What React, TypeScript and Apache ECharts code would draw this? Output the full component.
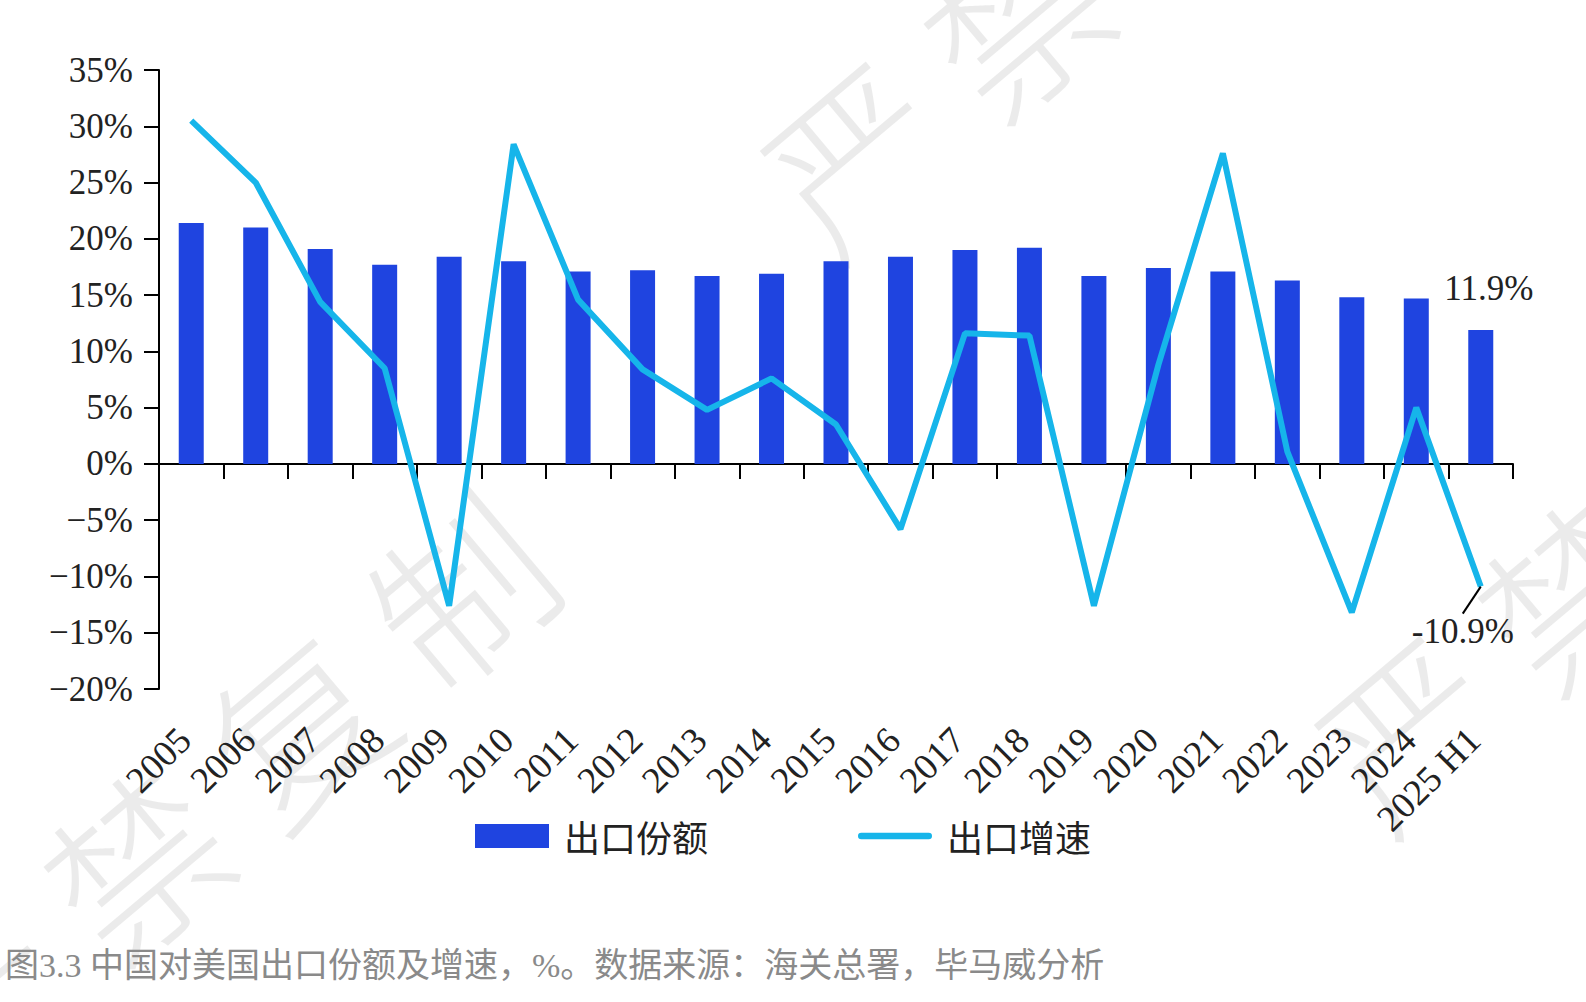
import React, { useEffect, useRef } from "react";
import * as echarts from "echarts";

const categories = [
  "2005", "2006", "2007", "2008", "2009", "2010", "2011", "2012", "2013", "2014",
  "2015", "2016", "2017", "2018", "2019", "2020", "2021", "2022", "2023", "2024", "2025 H1",
];
const shareValues = [
  21.4, 21.0, 19.1, 17.7, 18.4, 18.0, 17.1, 17.2, 16.7, 16.9,
  18.0, 18.4, 19.0, 19.2, 16.7, 17.4, 17.1, 16.3, 14.8, 14.7, 11.9,
];
const growthValues = [
  30.5, 25.0, 14.4, 8.5, -12.6, 28.4, 14.6, 8.4, 4.8, 7.6,
  3.5, -5.8, 11.6, 11.4, -12.6, 8.8, 27.6, 1.1, -13.2, 5.0, -10.9,
];
const seriesNames = ["出口份额", "出口增速"];
const yTicks = { min: -20, max: 35, interval: 5 };
const caption = "图3.3 中国对美国出口份额及增速，%。数据来源：海关总署，毕马威分析";
const watermark = "严禁复制";
const watermarkOrigins = [
  [-30, 995],
  [850, 152],
  [1404, 726],
];

const NUM_FONT = '"Liberation Serif", "Noto Sans CJK SC", serif';
const CJK_FONT = '"Noto Sans CJK SC", "Liberation Serif", sans-serif';
const LINE_ICON = "path://M4.5,0 H95.5 A4.5,4.5 0 0 1 95.5,9 H4.5 A4.5,4.5 0 0 1 4.5,0 Z";

export default function App() {
  const ref = useRef<HTMLDivElement>(null);

  useEffect(() => {
    if (!ref.current) return;
    const chart = echarts.init(ref.current, null, { renderer: "svg" });
    const last = categories.length - 1;

    const wmGroups = watermarkOrigins.map(([x, y]) => ({
      type: "group",
      x,
      y,
      rotation: 0.7,
      z: -10,
      silent: true,
      children: watermark.split("").map((c, i) => ({
        type: "text",
        x: i * 212,
        y: 0,
        style: {
          text: c,
          fontSize: 175,
          fontWeight: 300,
          fontFamily: CJK_FONT,
          fill: "rgba(0,0,0,0.08)",
          align: "center",
          verticalAlign: "middle",
        },
      })),
    }));

    const option: any = {
      animation: false,
      backgroundColor: "#ffffff",
      grid: { left: 159, right: 73, top: 70, bottom: 313, containLabel: false },
      legend: {
        left: 470,
        top: 813,
        itemWidth: 74,
        itemHeight: 24,
        itemGap: 150,
        textStyle: { fontSize: 36, color: "#222", fontFamily: CJK_FONT, padding: [0, 0, 0, 10] },
        data: [
          { name: seriesNames[0], icon: "rect" },
          { name: seriesNames[1], icon: LINE_ICON },
        ],
      },
      xAxis: [
        {
          type: "category",
          data: categories,
          boundaryGap: true,
          axisLine: { show: true, onZero: true, lineStyle: { color: "#000", width: 2 } },
          axisTick: { show: true, length: 15, interval: 0, alignWithLabel: false, lineStyle: { color: "#000", width: 2 } },
          axisLabel: { show: false },
          splitLine: { show: false },
        },
        {
          type: "category",
          data: categories,
          position: "bottom",
          boundaryGap: true,
          axisLine: { show: false, onZero: false },
          axisTick: { show: false },
          axisLabel: {
            show: true,
            interval: 0,
            rotate: 45,
            margin: 12,
            align: "right",
            verticalAlign: "top",
            padding: [0, 28, 0, 0],
            fontSize: 37,
            color: "#222",
            fontFamily: NUM_FONT,
          },
          splitLine: { show: false },
        },
      ],
      yAxis: {
        type: "value",
        min: yTicks.min,
        max: yTicks.max,
        interval: yTicks.interval,
        axisLine: { show: true, lineStyle: { color: "#000", width: 2 } },
        axisTick: { show: true, length: 15, lineStyle: { color: "#000", width: 2 } },
        axisLabel: {
          formatter: (v: number) => `${v < 0 ? "\u2212" + Math.abs(v) : v}%`,
          fontSize: 35,
          color: "#222",
          margin: 26,
          fontFamily: NUM_FONT,
        },
        splitLine: { show: false },
      },
      series: [
        {
          name: seriesNames[0],
          type: "bar",
          xAxisIndex: 0,
          barWidth: 25,
          itemStyle: { color: "#1f44e0" },
          z: 2,
          data: shareValues.map((v, i) =>
            i === last
              ? {
                  value: v,
                  label: {
                    show: true,
                    position: "top",
                    formatter: `${v}%`,
                    offset: [8, -19],
                    fontSize: 35,
                    color: "#222",
                    fontFamily: NUM_FONT,
                  },
                }
              : v
          ),
        },
        {
          name: seriesNames[1],
          type: "line",
          xAxisIndex: 0,
          symbol: "circle",
          symbolSize: 0.01,
          showSymbol: true,
          z: 3,
          lineStyle: { color: "#16b5ea", width: 6 },
          itemStyle: { color: "#16b5ea" },
          labelLine: { show: true, lineStyle: { color: "#000", width: 2 } },
          labelLayout: (p: any) => (p.dataIndex === last ? { dx: -18, dy: 22 } : {}),
          data: growthValues.map((v, i) =>
            i === last
              ? {
                  value: v,
                  label: {
                    show: true,
                    position: "bottom",
                    formatter: `${v}%`,
                    fontSize: 35,
                    color: "#222",
                    fontFamily: NUM_FONT,
                  },
                }
              : { value: v, label: { show: false } }
          ),
        },
      ],
      graphic: [
        ...wmGroups,
        {
          type: "text",
          left: 5,
          top: 948,
          z: 10,
          style: {
            text: caption,
            fontSize: 34,
            fill: "#8a8a8a",
            fontFamily: NUM_FONT,
          },
        },
      ],
    };

    chart.setOption(option);
    return () => chart.dispose();
  }, []);

  return (
    <div
      ref={ref}
      style={{ position: "fixed", left: 0, top: 0, width: 1586, height: 1002, background: "#fff" }}
    />
  );
}
